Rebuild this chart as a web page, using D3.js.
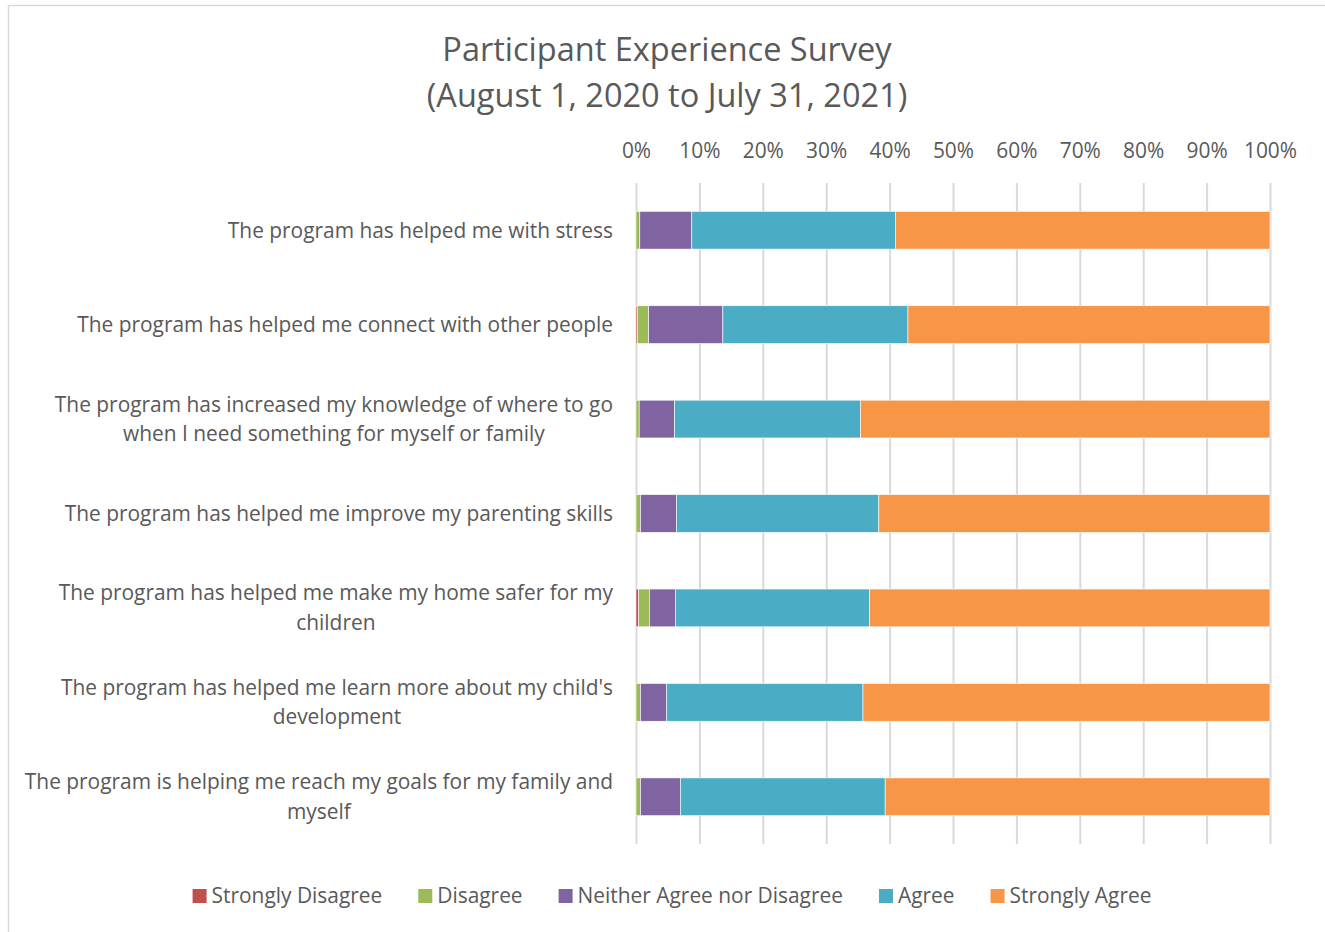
<!DOCTYPE html>
<html>
<head>
<meta charset="utf-8">
<script src="https://cdn.jsdelivr.net/npm/d3@7"></script>
<style>
  body { margin: 0; background: #fff; }
  svg { font-family: "Open Sans", Lato, sans-serif; }
</style>
</head>
<body>
<div id="root"></div>
<script>
// questions, top to bottom (lines split where the original wraps)
const questions = [
  ["The program has helped me with stress"],
  ["The program has helped me connect with other people"],
  ["The program has increased my knowledge of where to go", "when I need something for myself or family"],
  ["The program has helped me improve my parenting skills"],
  ["The program has helped me make my home safer for my", "children"],
  ["The program has helped me learn more about my child's", "development"],
  ["The program is helping me reach my goals for my family and", "myself"],
];

const responses = ["Strongly Disagree", "Disagree", "Neither Agree nor Disagree", "Agree", "Strongly Agree"];
const colors = ["#C0504D", "#9BBB59", "#8064A2", "#4BACC6", "#F79646"];

// percent per response, one array per response (same order as questions)
const stronglyDisagree = [0.0, 0.2, 0.0, 0.0, 0.4, 0.0, 0.0];
const disagree = [0.6, 1.8, 0.5, 0.7, 1.7, 0.7, 0.7];
const neither = [8.2, 11.7, 5.6, 5.7, 4.1, 4.1, 6.3];
const agree = [32.1, 29.2, 29.3, 31.9, 30.6, 31.0, 32.3];
const stronglyAgree = [59.1, 57.1, 64.6, 61.7, 63.2, 64.2, 60.7];

const xTicks = [0, 10, 20, 30, 40, 50, 60, 70, 80, 90, 100];

const width = 1325;
const height = 932;
const plotLeft = 636;
const plotRight = 1270;
const plotTop = 183;
const plotBottom = 844;
const textColor = "#595959";
const labelSize = "20.9px";

const table = questions.map((q, i) => ({
  q: i,
  "Strongly Disagree": stronglyDisagree[i],
  "Disagree": disagree[i],
  "Neither Agree nor Disagree": neither[i],
  "Agree": agree[i],
  "Strongly Agree": stronglyAgree[i],
}));
const stacked = d3.stack().keys(responses)(table);

const xScale = d3.scaleLinear().domain([0, 100]).range([plotLeft, plotRight]);
const yScale = d3
  .scaleBand()
  .domain(questions.map((q, i) => i))
  .range([plotTop, plotBottom])
  .paddingInner(0.6)
  .paddingOuter(0.3);

const svg = d3
  .select("#root")
  .append("svg")
  .attr("width", width)
  .attr("height", height);

// chart frame
svg
  .append("rect")
  .attr("x", 8.5)
  .attr("y", 5.5)
  .attr("width", width)
  .attr("height", height)
  .attr("fill", "none")
  .attr("stroke", "#d9d9d9")
  .attr("stroke-width", 1.5);

// title
svg
  .append("text")
  .attr("x", 667)
  .attr("y", 61)
  .attr("text-anchor", "middle")
  .attr("fill", textColor)
  .style("font-size", "32.5px")
  .selectAll("tspan")
  .data(["Participant Experience Survey", "(August 1, 2020 to July 31, 2021)"])
  .enter()
  .append("tspan")
  .attr("x", 667)
  .attr("dy", (d, i) => (i === 0 ? 0 : 46))
  .text((d) => d);

// gridlines + tick labels on top
const xAxis = d3
  .axisTop(xScale)
  .tickValues(xTicks)
  .tickFormat((d) => d + "%")
  .tickSize(-(plotBottom - plotTop))
  .tickPadding(25);

const gx = svg
  .append("g")
  .attr("transform", `translate(0, ${plotTop})`)
  .call(xAxis);
gx.select(".domain").remove();
gx.selectAll("line").attr("stroke", "#d9d9d9").attr("stroke-width", 2);
gx.selectAll("text")
  .attr("fill", textColor)
  .style("font-size", labelSize)
  .style("font-family", "'Open Sans', sans-serif");

// bars
svg
  .append("g")
  .selectAll("g")
  .data(stacked)
  .enter()
  .append("g")
  .attr("fill", (d, i) => colors[i])
  .selectAll("rect")
  .data((d) => d)
  .enter()
  .append("rect")
  .attr("x", (d) => xScale(d[0]))
  .attr("y", (d) => yScale(d.data.q))
  .attr("width", (d) => Math.max(0, xScale(d[1]) - xScale(d[0])))
  .attr("height", yScale.bandwidth())
  .attr("stroke", "#fff")
  .attr("stroke-width", 0.6);

// category labels: block right-aligned, wrapped lines centred inside it
const labelRight = 613;
const lineH = 29.5;
questions.forEach((lines, i) => {
  const cy = yScale(i) + yScale.bandwidth() / 2;
  const g = svg.append("g");
  const texts = lines.map((l, j) =>
    g
      .append("text")
      .attr("fill", textColor)
      .style("font-size", labelSize)
      .attr("dy", "0.35em")
      .attr("y", cy + (j - (lines.length - 1) / 2) * lineH)
      .text(l)
  );
  const maxW = d3.max(texts, (t) => t.node().getComputedTextLength());
  texts.forEach((t) =>
    t.attr("text-anchor", "middle").attr("x", labelRight - maxW / 2)
  );
});

// legend
const legend = svg.append("g").attr("transform", "translate(0, 896)");
const items = responses.map((r, i) => {
  const g = legend.append("g");
  g.append("rect")
    .attr("x", 0)
    .attr("y", -7)
    .attr("width", 14)
    .attr("height", 14)
    .attr("fill", colors[i]);
  g.append("text")
    .attr("x", 19)
    .attr("dy", "0.35em")
    .attr("fill", textColor)
    .style("font-size", labelSize)
    .text(r);
  return g;
});
const gap = 36;
const widths = items.map((g) => g.node().getBBox().width);
const total = d3.sum(widths) + gap * (items.length - 1);
let lx = 672 - total / 2;
items.forEach((g, i) => {
  g.attr("transform", `translate(${lx}, 0)`);
  lx += widths[i] + gap;
});
</script>
</body>
</html>
